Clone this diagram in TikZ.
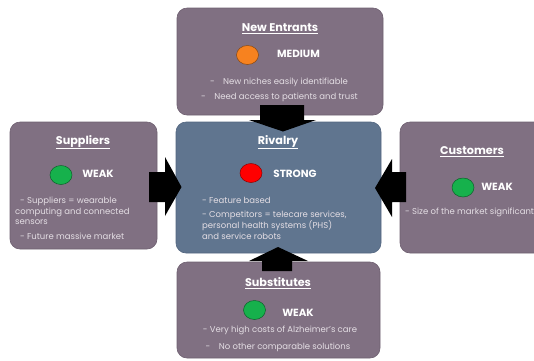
\documentclass[tikz,border=0pt]{standalone}
\usepackage{fontspec}
\setmainfont{Poppins}
\definecolor{boxpurple}{HTML}{807082}
\definecolor{boxedge}{HTML}{6E5F70}
\definecolor{rivblue}{HTML}{60758F}
\definecolor{rivedge}{HTML}{536680}
\definecolor{bodytxt}{HTML}{E4DEE4}
\definecolor{dotorange}{HTML}{F7821F}
\definecolor{dotgreen}{HTML}{16B14C}
\definecolor{dotred}{HTML}{FF0000}
\tikzset{
  forcebox/.style={draw=boxedge, line width=0.6pt, fill=boxpurple, rounded corners=10pt, inner sep=0pt, outer sep=0pt},
  rivbox/.style={draw=rivedge, line width=0.6pt, fill=rivblue, rounded corners=10pt, inner sep=0pt, outer sep=0pt},
  title/.style={text=white, font=\bfseries\fontsize{11.2}{13}\selectfont, inner sep=0pt},
  level/.style={text=white, font=\bfseries\fontsize{10.4}{11}\selectfont, inner sep=0pt},
  body/.style={text=bodytxt, font=\fontsize{8.5}{9}\selectfont, inner sep=0pt},
  dot/.style={ellipse, draw=black!45!#1, line width=0.5pt, fill=#1, inner sep=0pt, minimum width=22pt, minimum height=19pt},
  blockarrow/.style={fill=black, draw=none}
}
\usetikzlibrary{shapes.geometric}
\begin{document}
\begin{tikzpicture}[x=1pt,y=-1pt]
\useasboundingbox (0,0) rectangle (534,360);
\clip (0,0) rectangle (534,360);
% boxes
\node[forcebox, minimum width=206pt, minimum height=107pt] (ne) at (280,61.5) {};
\node[forcebox, minimum width=147pt, minimum height=127pt] (sup) at (83.5,185.5) {};
\node[forcebox, minimum width=160pt, minimum height=131pt] (cus) at (480,187.5) {};
\node[forcebox, minimum width=203pt, minimum height=96pt] (sub) at (278.5,310) {};
\node[rivbox, minimum width=205pt, minimum height=131pt] (riv) at (278.5,187.5) {};
% block arrows
\fill[blockarrow] (260,105) -- (304,105) -- (304,120) -- (316,120) -- (283,131.5) -- (249,120) -- (260,120) -- cycle;
\fill[blockarrow] (149,172) -- (165,172) -- (165,157) -- (181.5,187) -- (165,216) -- (165,202) -- (149,202) -- cycle;
\fill[blockarrow] (406,172) -- (392,172) -- (392,159) -- (375,188) -- (392,217) -- (392,202) -- (406,202) -- cycle;
\fill[blockarrow] (262,271) -- (292,271) -- (292,261) -- (308,261) -- (278,247) -- (249,261) -- (262,261) -- cycle;
% New Entrants
\node[title] (neT) at (280,29) {\underline{New Entrants}};
\node[dot=dotorange] (neD) at (247.5,55) {};
\node[level] (neL) at (298.5,54) {MEDIUM};
\node[body] (ne1) at (279,82) {-\quad New niches easily identifiable};
\node[body] (ne2) at (279.5,97) {-\quad Need access to patients and trust};
% Suppliers
\node[title] (supT) at (83,142) {\underline{Suppliers}};
\node[dot=dotgreen] (supD) at (61,175) {};
\node[level] (supL) at (98,174) {WEAK};
\node[body, anchor=west] (sup1) at (20,201) {- Suppliers = wearable};
\node[body, anchor=west] (sup2) at (15,212) {computing and connected};
\node[body, anchor=west] (sup3) at (15,222.5) {sensors};
\node[body, anchor=west] (sup4) at (20,236) {- Future massive market};
% Rivalry
\node[title] (rivT) at (278,142) {\underline{Rivalry}};
\node[dot=dotred] (rivD) at (251,173) {};
\node[level] (rivL) at (295,173.5) {STRONG};
\node[body, anchor=west] (riv1) at (202,200) {- Feature based};
\node[body, anchor=west] (riv2) at (202,215) {- Competitors = telecare services,};
\node[body, anchor=west] (riv3) at (202,225.5) {personal health systems (PHS)};
\node[body, anchor=west] (riv4) at (202,236) {and service robots};
% Customers
\node[title] (cusT) at (472,152) {\underline{Customers}};
\node[dot=dotgreen] (cusD) at (463,187.5) {};
\node[level] (cusL) at (497,186.5) {WEAK};
\node[body, anchor=west] (cus1) at (405,212) {- Size of the market significant};
% Substitutes
\node[title] (subT) at (278,283) {\underline{Substitutes}};
\node[dot=dotgreen] (subD) at (254.5,310) {};
\node[level] (subL) at (298,313) {WEAK};
\node[body] (sub1) at (280,330) {- Very high costs of Alzheimer’s care};
\node[body] (sub2) at (278,347) {-\quad No other comparable solutions};
\end{tikzpicture}
\end{document}
